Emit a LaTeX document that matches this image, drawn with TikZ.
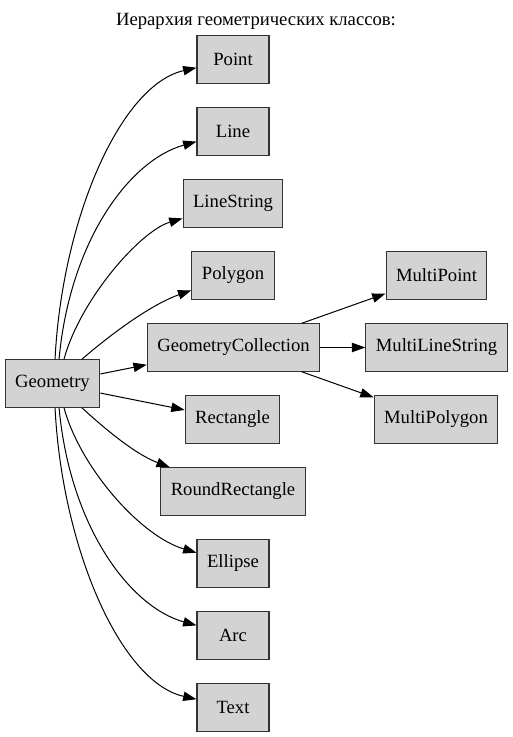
\documentclass[tikz,border=0pt]{standalone}
\usepackage{fontspec}
\setmainfont{Liberation Serif}
\usetikzlibrary{arrows.meta}
\definecolor{boxgray}{RGB}{211,211,211}

\begin{document}
\begin{tikzpicture}[x=0.75pt,y=0.75pt,
    cls/.style={rectangle,draw=black!80,line width=0.8pt,fill=boxgray,
		font=\fontsize{14}{16}\selectfont,inner xsep=7.5pt,
		minimum width=54pt,minimum height=35.5pt},
    caption/.style={font=\fontsize{14}{16}\selectfont,inner sep=0pt}
    ]
   \useasboundingbox (0,0) rectangle (512,737);
   \begin{scope}[line width=0.75pt,>={Triangle[length=10pt,width=7pt]}]

    % Place nodes
    \node [caption] (title) at (256,716) {Иерархия геометрических классов:};
    \node [cls] (geo) at (52.5,353.5) {Geometry};

    \node [cls] (point) at (233,677.5) {Point};
    \node [cls] (line) at (233,605.5) {Line};
    \node [cls] (linestr) at (233,533.5) {LineString};
    \node [cls] (polygon) at (233,461.5) {Polygon};
    \node [cls] (gcoll) at (233.5,389.5) {GeometryCollection};
    \node [cls] (rect) at (232.5,317.5) {Rectangle};
    \node [cls] (rrect) at (233,245.5) {RoundRectangle};
    \node [cls] (ellipse) at (233,173.5) {Ellipse};
    \node [cls] (arc) at (233,101.5) {Arc};
    \node [cls] (text) at (233,29.5) {Text};

    \node [cls] (mpoint) at (436.5,461.5) {MultiPoint};
    \node [cls] (mlinestr) at (436.5,389.5) {MultiLineString};
    \node [cls] (mpolygon) at (436,317.5) {MultiPolygon};

    % Draw edges
    \draw [->] ([xshift=1.9pt]geo.north) .. controls (62,517) and (120,652) .. (point);
    \draw [->] ([xshift=4.9pt]geo.north) .. controls (70,497) and (130,577) .. (line);
    \draw [->] ([xshift=8.6pt]geo.north) .. controls (80,437) and (140,506) .. (linestr);
    \draw [->] ([xshift=22pt]geo.north) .. controls (110,402) and (150,432) .. (polygon);
    \draw [->] (geo) -- (gcoll);
    \draw [->] (geo) -- (rect);
    \draw [->] ([xshift=22pt]geo.south) .. controls (105,308) and (135,283) .. (rrect);
    \draw [->] ([xshift=8.6pt]geo.south) .. controls (80,270) and (140,201) .. (ellipse);
    \draw [->] ([xshift=4.9pt]geo.south) .. controls (70,210) and (130,130) .. (arc);
    \draw [->] ([xshift=1.9pt]geo.south) .. controls (62,190) and (120,55) .. (text);

    \draw [->] (gcoll) -- (mpoint);
    \draw [->] (gcoll) -- (mlinestr);
    \draw [->] (gcoll) -- (mpolygon);

\end{scope}
\end{tikzpicture}
\end{document}
